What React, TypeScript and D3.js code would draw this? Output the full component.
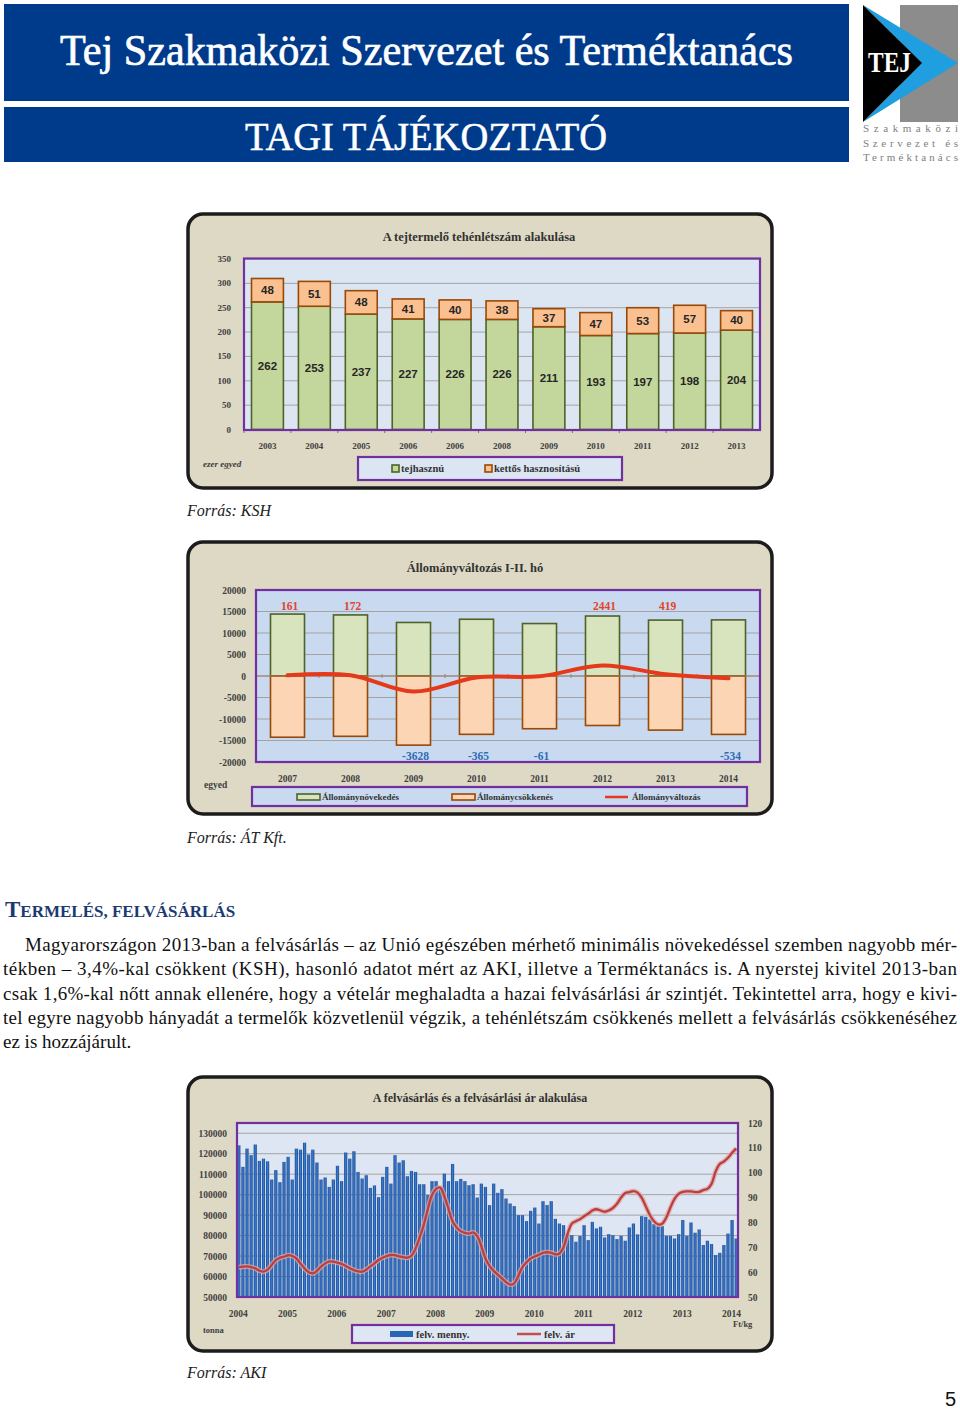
import React from 'react';
import * as d3 from 'd3';

const SERIF = '"Liberation Serif", "Times New Roman", serif';
const SANS = '"Liberation Sans", Arial, sans-serif';

// ---------- Chart 1: A tejtermelő tehénlétszám alakulása ----------
const cowYears = ['2003', '2004', '2005', '2006', '2006', '2008', '2009', '2010', '2011', '2012', '2013'];
const dairyCows = [262, 253, 237, 227, 226, 226, 211, 193, 197, 198, 204];
const dualCows = [48, 51, 48, 41, 40, 38, 37, 47, 53, 57, 40];
const cowTicks = [0, 50, 100, 150, 200, 250, 300, 350];

// ---------- Chart 2: Állományváltozás I-II. hó ----------
const stockYears = ['2007', '2008', '2009', '2010', '2011', '2012', '2013', '2014'];
const stockIncrease = [14400, 14200, 12450, 13200, 12200, 13950, 13000, 13050];
const stockDecrease = [-14239, -14028, -16078, -13565, -12261, -11509, -12581, -13584];
const stockNet = [161, 172, -3628, -365, -61, 2441, 419, -534];
const stockTicks = [-20000, -15000, -10000, -5000, 0, 5000, 10000, 15000, 20000];

// ---------- Chart 3: A felvásárlás és a felvásárlási ár alakulása ----------
const purchaseYears = ['2004', '2005', '2006', '2007', '2008', '2009', '2010', '2011', '2012', '2013', '2014'];
const purchaseVolume = [
  124100, 113600, 122500, 119300, 124500, 116500, 117600, 116300, 107400, 112000, 106100, 116000,
  118500, 107400, 122500, 122000, 125400, 119600, 122000, 115700, 107400, 108400, 103800, 107400,
  114100, 106600, 120600, 117600, 121200, 111100, 107900, 109500, 103300, 104500, 98800, 108700,
  113600, 105400, 119300, 115700, 116800, 109000, 111600, 111100, 105100, 105100, 99800, 106600,
  106600, 103000, 110300, 106600, 115000, 106600, 107700, 106600, 104600, 105100, 98600, 105400,
  103800, 94900, 105400, 100900, 102700, 98100, 95700, 94400, 90000, 90000, 87100, 92100,
  93700, 85900, 96800, 94900, 96800, 88200, 85900, 85100, 81000, 80200, 77000, 79800,
  85100, 77800, 86700, 83500, 84300, 79100, 80700, 80200, 78300, 79900, 77500, 84000,
  85900, 80600, 89500, 89200, 87900, 85600, 84600, 84600, 79900, 79900, 78600, 80700,
  87600, 79900, 86400, 81400, 83000, 75400, 77500, 75900, 70500, 71600, 75400, 81000,
  87600, 78600,
];
const purchasePrice = [
  62.0, 62.2, 62.3, 62.0, 61.5, 60.6, 60.2, 61.0, 62.9, 64.8, 65.8, 66.2,
  66.8, 66.5, 65.5, 63.5, 61.5, 60.0, 59.5, 60.5, 62.2, 63.5, 64.3, 64.2,
  63.8, 63.3, 62.5, 61.6, 60.8, 60.3, 60.2, 61.0, 62.3, 63.5, 64.9, 65.8,
  66.5, 66.9, 66.8, 66.3, 66.0, 65.8, 66.6, 69.5, 74.0, 79.0, 85.5, 91.0,
  93.5, 94.0, 90.5, 85.5, 80.5, 78.0, 76.5, 75.8, 75.5, 76.0, 74.5, 70.5,
  65.5, 62.5, 60.5, 59.0, 57.5, 56.0, 55.0, 55.5, 58.5, 62.0, 64.0, 65.5,
  66.3, 67.0, 67.8, 68.0, 67.8, 67.2, 67.5, 70.0, 75.5, 79.5, 80.5, 81.3,
  82.5, 83.5, 84.8, 85.3, 84.8, 84.3, 84.8, 85.8, 87.5, 90.0, 91.8, 92.2,
  92.6, 92.0, 90.0, 86.5, 83.0, 80.5, 79.2, 79.5, 82.0, 86.0, 89.5, 91.5,
  92.3, 92.5, 92.5, 92.2, 92.3, 93.0, 93.5, 95.5, 100.5, 103.5, 104.5, 106.0,
  108.0, 109.8,
];
const volumeTicks = [50000, 60000, 70000, 80000, 90000, 100000, 110000, 120000, 130000];
const priceTicks = [50, 60, 70, 80, 90, 100, 110, 120];

const paraLines = [
  'Magyarországon 2013-ban a felvásárlás – az Unió egészében mérhető minimális növekedéssel szemben nagyobb mér-',
  'tékben – 3,4%-kal csökkent (KSH), hasonló adatot mért az AKI, illetve a Terméktanács is. A nyerstej kivitel 2013-ban',
  'csak 1,6%-kal nőtt annak ellenére, hogy a vételár meghaladta a hazai felvásárlási ár szintjét. Tekintettel arra, hogy e kivi-',
  'tel egyre nagyobb hányadát a termelők közvetlenül végzik, a tehénlétszám csökkenés mellett a felvásárlás csökkenéséhez',
  'ez is hozzájárult.',
];

const FRAME_FILL = '#ddd9c4';
const PURPLE = '#7030a0';

function Frame({ x, y, w, h }: { x: number; y: number; w: number; h: number }) {
  return <rect x={x} y={y} width={w} height={h} rx={15} ry={15} fill={FRAME_FILL} stroke="#1c1c1c" strokeWidth={3.5} />;
}

function Chart1() {
  const L = 244, R = 760, T = 258.5, B = 430;
  const y = d3.scaleLinear().domain([0, 350]).range([429.5, 259]);
  const x = d3.scaleBand<number>().domain(d3.range(cowYears.length)).range([L, R]).paddingInner(0.32).paddingOuter(0.16);
  const bw = x.bandwidth();
  return (
    <g>
      <Frame x={188} y={214} w={584} h={274} />
      <text x={479} y={241} textAnchor="middle" fontFamily={SERIF} fontWeight="bold" fontSize={12.5} fill="#333">A tejtermelő tehénlétszám alakulása</text>
      <rect x={L} y={T} width={R - L} height={B - T} fill="#dce6f2" />
      {cowTicks.slice(1).map((t) => (
        <line key={t} x1={L} x2={R} y1={y(t)} y2={y(t)} stroke="#a3a3a3" strokeWidth={1} />
      ))}
      {cowTicks.map((t) => (
        <text key={t} x={231} y={y(t) + 3} textAnchor="end" fontFamily={SERIF} fontWeight="bold" fontSize={9} fill="#404040">{t}</text>
      ))}
      {cowYears.map((_, i) => (
        <line key={i} x1={L + i * x.step()} x2={L + i * x.step()} y1={B} y2={B + 3} stroke="#777" strokeWidth={1} />
      ))}
      {cowYears.map((yr, i) => {
        const x0 = x(i)!;
        const total = dairyCows[i] + dualCows[i];
        return (
          <g key={i}>
            <rect x={x0} y={y(dairyCows[i])} width={bw} height={y(0) - y(dairyCows[i])} fill="#c3d69b" stroke="#4f6228" strokeWidth={1.6} />
            <rect x={x0} y={y(total)} width={bw} height={y(dairyCows[i]) - y(total)} fill="#fac090" stroke="#984807" strokeWidth={1.6} />
            <text x={x0 + bw / 2} y={(y(0) + y(dairyCows[i])) / 2 + 4} textAnchor="middle" fontFamily={SANS} fontWeight="bold" fontSize={11.5} fill="#262626">{dairyCows[i]}</text>
            <text x={x0 + bw / 2} y={(y(dairyCows[i]) + y(total)) / 2 + 4} textAnchor="middle" fontFamily={SANS} fontWeight="bold" fontSize={11.5} fill="#262626">{dualCows[i]}</text>
            <text x={x0 + bw / 2} y={449} textAnchor="middle" fontFamily={SERIF} fontWeight="bold" fontSize={9} fill="#404040">{yr}</text>
          </g>
        );
      })}
      <line x1={L} x2={R} y1={y(0)} y2={y(0)} stroke="#888" strokeWidth={1} />
      <rect x={L} y={T} width={R - L} height={B - T} fill="none" stroke={PURPLE} strokeWidth={2.2} />
      <text x={203} y={467} fontFamily={SERIF} fontStyle="italic" fontWeight="bold" fontSize={9} fill="#404040">ezer egyed</text>
      <rect x={358} y={457} width={264} height={23} fill="#dce6f2" stroke={PURPLE} strokeWidth={2.2} />
      <rect x={392} y={465} width={7} height={7} fill="#c3d69b" stroke="#4f6228" strokeWidth={1.6} />
      <text x={401} y={472} fontFamily={SERIF} fontWeight="bold" fontSize={10.5} fill="#333">tejhasznú</text>
      <rect x={485} y={465} width={7} height={7} fill="#fac090" stroke="#984807" strokeWidth={1.6} />
      <text x={494} y={472} fontFamily={SERIF} fontWeight="bold" fontSize={10.5} fill="#333">kettős hasznosítású</text>
    </g>
  );
}

function Chart2() {
  const L = 256, R = 760, T = 590, B = 762;
  const y = d3.scaleLinear().domain([-20000, 20000]).range([B, T]);
  const x = d3.scaleBand<number>().domain(d3.range(stockYears.length)).range([L, R]).paddingInner(0.46).paddingOuter(0.23);
  const bw = x.bandwidth();
  const cx = (i: number) => x(i)! + bw / 2;
  const line = d3.line<number>().x((_, i) => cx(i)).y((d) => y(d)).curve(d3.curveCatmullRom.alpha(0.5));
  return (
    <g>
      <Frame x={188} y={542} w={584} h={272} />
      <text x={475} y={572} textAnchor="middle" fontFamily={SERIF} fontWeight="bold" fontSize={12.5} fill="#333">Állományváltozás I-II. hó</text>
      <rect x={L} y={T} width={R - L} height={B - T} fill="#c9d9ef" />
      {stockTicks.slice(1, -1).map((t) => (
        <line key={t} x1={L} x2={R} y1={y(t)} y2={y(t)} stroke="#a3a3a3" strokeWidth={1} />
      ))}
      {stockTicks.map((t) => (
        <text key={t} x={246} y={y(t) + 3.5} textAnchor="end" fontFamily={SERIF} fontWeight="bold" fontSize={9.5} fill="#404040">{t}</text>
      ))}
      {stockYears.map((yr, i) => (
        <g key={i}>
          <rect x={x(i)!} y={y(stockIncrease[i])} width={bw} height={y(0) - y(stockIncrease[i])} fill="#d7e4bd" stroke="#4f6228" strokeWidth={1.6} />
          <rect x={x(i)!} y={y(0)} width={bw} height={y(stockDecrease[i]) - y(0)} fill="#fcd5b5" stroke="#984807" strokeWidth={1.6} />
          <text x={cx(i)} y={782} textAnchor="middle" fontFamily={SERIF} fontWeight="bold" fontSize={9.5} fill="#404040">{yr}</text>
          <line x1={L + i * x.step()} x2={L + i * x.step()} y1={y(0) - 2} y2={y(0) + 2} stroke="#888" />
        </g>
      ))}
      <line x1={L} x2={R} y1={y(0)} y2={y(0)} stroke="#a08060" strokeWidth={1} />
      <path d={line(stockNet) || ''} fill="none" stroke="#e5391c" strokeWidth={4} strokeLinecap="round" />
      {stockNet.map((v, i) => (
        <text key={i} x={cx(i) + 2} y={v >= 0 ? y(15400) : y(-19500)} textAnchor="middle" fontFamily={SERIF} fontWeight="bold" fontSize={11.5} fill={v >= 0 ? '#e0442c' : '#2e6db5'}>{v}</text>
      ))}
      <rect x={L} y={T} width={R - L} height={B - T} fill="none" stroke={PURPLE} strokeWidth={2.2} />
      <text x={204} y={788} fontFamily={SERIF} fontWeight="bold" fontSize={9.5} fill="#404040">egyed</text>
      <rect x={252} y={787} width={495} height={19} fill="#c9d9ef" stroke={PURPLE} strokeWidth={2.2} />
      <rect x={297} y={794} width={23} height={6} fill="#d7e4bd" stroke="#4f6228" strokeWidth={1.6} />
      <text x={322} y={800} fontFamily={SERIF} fontWeight="bold" fontSize={9} fill="#333">Állománynövekedés</text>
      <rect x={452} y={794} width={23} height={6} fill="#fcd5b5" stroke="#984807" strokeWidth={1.6} />
      <text x={477} y={800} fontFamily={SERIF} fontWeight="bold" fontSize={9} fill="#333">Állománycsökkenés</text>
      <line x1={605} x2={628} y1={797} y2={797} stroke="#e5391c" strokeWidth={2.5} />
      <text x={632} y={800} fontFamily={SERIF} fontWeight="bold" fontSize={9} fill="#333">Állományváltozás</text>
    </g>
  );
}

function Chart3() {
  const L = 237, R = 738, T = 1123, B = 1297;
  const yL = d3.scaleLinear().domain([50000, 135000]).range([B, T]);
  const yR = d3.scaleLinear().domain([50, 120]).range([B, T]);
  const x = d3.scaleBand<number>().domain(d3.range(purchaseVolume.length)).range([L, R]).paddingInner(0.22).paddingOuter(0.05);
  const bw = x.bandwidth();
  const line = d3.line<number>().x((_, i) => x(i)! + bw / 2).y((d) => yR(d)).curve(d3.curveCatmullRom.alpha(0.5));
  const d = line(purchasePrice) || '';
  return (
    <g>
      <defs>
        <linearGradient id="barGrad" x1="0" x2="1" y1="0" y2="0">
          <stop offset="0" stopColor="#1b4b94" />
          <stop offset="0.5" stopColor="#3a7bcd" />
          <stop offset="1" stopColor="#1b4b94" />
        </linearGradient>
      </defs>
      <Frame x={188} y={1077} w={584} h={274} />
      <text x={480} y={1102} textAnchor="middle" fontFamily={SERIF} fontWeight="bold" fontSize={12} fill="#333">A felvásárlás és a felvásárlási ár alakulása</text>
      <rect x={L} y={T} width={R - L} height={B - T} fill="#dfe6f3" />
      {volumeTicks.slice(1).map((t) => (
        <line key={t} x1={L} x2={R} y1={yL(t)} y2={yL(t)} stroke="#a3a3a3" strokeWidth={1} />
      ))}
      {volumeTicks.map((t) => (
        <text key={t} x={227} y={yL(t) + 3.5} textAnchor="end" fontFamily={SERIF} fontWeight="bold" fontSize={9.5} fill="#404040">{t}</text>
      ))}
      {priceTicks.map((t) => (
        <text key={t} x={748} y={yR(t) + 3.5} fontFamily={SERIF} fontWeight="bold" fontSize={9.5} fill="#404040">{t}</text>
      ))}
      {purchaseVolume.map((v, i) => (
        <rect key={i} x={x(i)!} y={yL(v)} width={bw} height={yL(50000) - yL(v)} fill="url(#barGrad)" />
      ))}
      {purchaseYears.map((yr, k) => (
        <text key={yr} x={x(k * 12)! + 1} y={1317} textAnchor="middle" fontFamily={SERIF} fontWeight="bold" fontSize={9.5} fill="#404040">{yr}</text>
      ))}
      <path d={d} fill="none" stroke="#e6a3a3" strokeWidth={5} strokeOpacity={0.75} strokeLinejoin="round" />
      <path d={d} fill="none" stroke="#b8403f" strokeWidth={2.3} strokeLinejoin="round" />
      <line x1={L} x2={R} y1={B} y2={B} stroke="#888" strokeWidth={1} />
      <rect x={L} y={T} width={R - L} height={B - T} fill="none" stroke={PURPLE} strokeWidth={2.2} />
      <text x={203} y={1333} fontFamily={SERIF} fontWeight="bold" fontSize={8.5} fill="#404040">tonna</text>
      <text x={733} y={1327} fontFamily={SERIF} fontWeight="bold" fontSize={8.5} fill="#404040">Ft/kg</text>
      <rect x={352} y={1325} width={262} height={18} fill="#dfe6f3" stroke={PURPLE} strokeWidth={2.2} />
      <rect x={390} y={1331} width={23} height={6} fill="#2b66b5" />
      <text x={416} y={1338} fontFamily={SERIF} fontWeight="bold" fontSize={10.5} fill="#333">felv. menny.</text>
      <line x1={517} x2={541} y1={1334} y2={1334} stroke="#c0504d" strokeWidth={2.5} />
      <text x={544} y={1338} fontFamily={SERIF} fontWeight="bold" fontSize={10.5} fill="#333">felv. ár</text>
    </g>
  );
}

function Header() {
  return (
    <g>
      <rect x={4} y={4} width={845} height={97} fill="#003b8b" />
      <rect x={4} y={107} width={845} height={55} fill="#003b8b" />
      <text x={60} y={65} fontFamily={SERIF} fontSize={44} fill="#fff" stroke="#fff" strokeWidth={0.7} textLength={733} lengthAdjust="spacingAndGlyphs">Tej Szakmaközi Szervezet és Terméktanács</text>
      <text x={245} y={150} fontFamily={SERIF} fontSize={40} fill="#fff" stroke="#fff" strokeWidth={0.5} textLength={362} lengthAdjust="spacingAndGlyphs">TAGI TÁJÉKOZTATÓ</text>
      <rect x={900} y={5} width={58} height={117} fill="#8c8c8c" />
      <polygon points="863,5 958,63 863,122 922,63" fill="#1f9fdf" />
      <polygon points="863,5 922,63 863,122" fill="#000" />
      <text x={868} y={72} fontFamily={SERIF} fontWeight="bold" fontSize={30} fill="#fff" textLength={43} lengthAdjust="spacingAndGlyphs">TEJ</text>
      <text x={863} y={132} fontFamily={SERIF} fontSize={11} fill="#808080" textLength={95} lengthAdjust="spacing">Szakmaközi</text>
      <text x={863} y={147} fontFamily={SERIF} fontSize={11} fill="#808080" textLength={95} lengthAdjust="spacing">Szervezet és</text>
      <text x={863} y={161} fontFamily={SERIF} fontSize={11} fill="#808080" textLength={95} lengthAdjust="spacing">Terméktanács</text>
    </g>
  );
}

export default function App() {
  return (
    <svg width={960} height={1412} viewBox="0 0 960 1412" style={{ position: 'absolute', left: 0, top: 0, background: '#fff' }}>
      <rect x={0} y={0} width={960} height={1412} fill="#fff" />
      <Header />
      <Chart1 />
      <text x={187} y={516} fontFamily={SERIF} fontStyle="italic" fontSize={16} fill="#222">Forrás: KSH</text>
      <Chart2 />
      <text x={187} y={843} fontFamily={SERIF} fontStyle="italic" fontSize={16} fill="#222">Forrás: ÁT Kft.</text>
      <text x={5} y={917} fontFamily={SERIF} fontWeight="bold" fill="#1c3a72">
        <tspan fontSize={23}>T</tspan>
        <tspan fontSize={17}>ERMELÉS, FELVÁSÁRLÁS</tspan>
      </text>
      {paraLines.map((ln, i) => {
        const x0 = i === 0 ? 25 : 3;
        const last = i === paraLines.length - 1;
        return (
          <text key={i} x={x0} y={951 + i * 24.3} fontFamily={SERIF} fontSize={19} fill="#111"
            {...(last ? {} : { textLength: 957 - x0, lengthAdjust: 'spacing' })}>{ln}</text>
        );
      })}
      <Chart3 />
      <text x={187} y={1378} fontFamily={SERIF} fontStyle="italic" fontSize={16} fill="#222">Forrás: AKI</text>
      <text x={956} y={1406} textAnchor="end" fontFamily={SANS} fontSize={20} fill="#111">5</text>
    </svg>
  );
}
